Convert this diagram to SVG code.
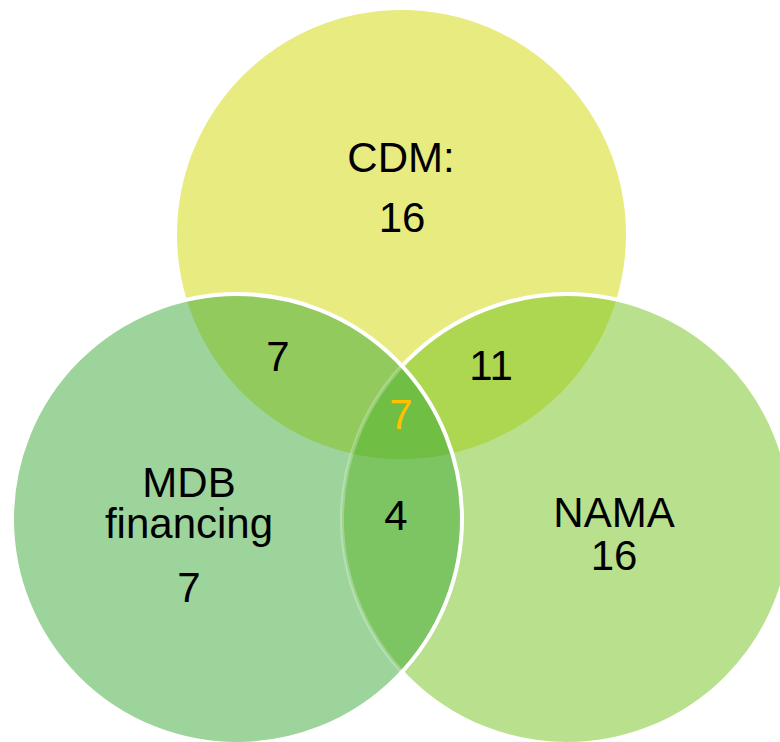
<svg xmlns="http://www.w3.org/2000/svg" width="780" height="742" viewBox="0 0 780 742">
<style>
.lbl{font-family:"Liberation Sans",Arial,sans-serif;font-size:42px;fill:#000;text-anchor:middle}
.edge{fill:none;stroke:#fff;stroke-width:4}
</style>
<defs>
<clipPath id="cT"><circle cx="401.5" cy="234.5" r="224.5"/></clipPath>
<clipPath id="cR"><circle cx="567" cy="519" r="225"/></clipPath>
<clipPath id="cL"><circle cx="237" cy="519" r="225"/></clipPath>
</defs>
<rect width="780" height="742" fill="#fff"/>
<g id="cdm">
<circle cx="401.5" cy="234.5" r="224.5" fill="#E8EB80"/>
</g>
<g id="nama">
<circle cx="567" cy="519" r="225" fill="#B8E08D"/>
<g clip-path="url(#cT)"><circle cx="567" cy="519" r="225" fill="#ADD751"/></g>
<circle class="edge" cx="567" cy="519" r="225"/>
</g>
<g id="mdb">
<circle cx="237" cy="519" r="225" fill="#9DD49C"/>
<g clip-path="url(#cT)"><circle cx="237" cy="519" r="225" fill="#92CA5E"/></g>
<g clip-path="url(#cR)"><circle cx="237" cy="519" r="225" fill="#7DC463"/></g>
<g clip-path="url(#cR)"><g clip-path="url(#cT)"><circle cx="237" cy="519" r="225" fill="#70BE44"/></g></g>
<g clip-path="url(#cL)"><circle cx="567" cy="519" r="225" fill="none" stroke="#fff" stroke-opacity="0.25" stroke-width="4"/></g>
<circle class="edge" cx="237" cy="519" r="225"/>
</g>
<g id="labels">
<text class="lbl" x="401" y="172">CDM:</text>
<text class="lbl" x="402" y="232">16</text>
<text class="lbl" x="278" y="371">7</text>
<text class="lbl" x="491" y="380">11</text>
<text class="lbl" x="401" y="429" fill="#FFC000" style="fill:#FFC000">7</text>
<text class="lbl" x="396" y="530">4</text>
<text class="lbl" x="189" y="497">MDB</text>
<text class="lbl" x="189" y="538">financing</text>
<text class="lbl" x="189" y="602">7</text>
<text class="lbl" x="614" y="527">NAMA</text>
<text class="lbl" x="614" y="570">16</text>
</g>
</svg>
